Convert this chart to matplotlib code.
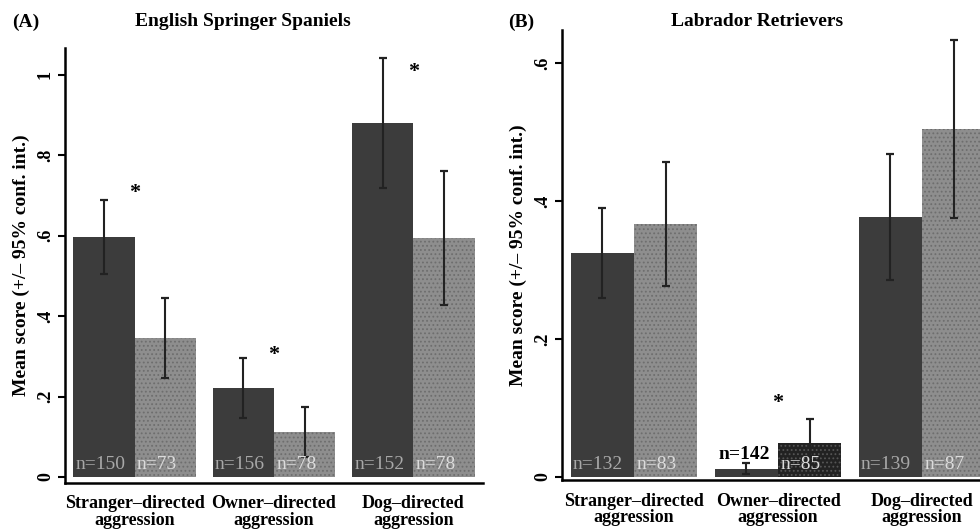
import numpy as np
import matplotlib.pyplot as plt

plt.rcParams['font.family'] = ['Liberation Serif', 'DejaVu Serif']
plt.rcParams['font.weight'] = 'bold'
plt.rcParams['hatch.linewidth'] = 0.8

categories = ['Stranger\u2013directed\naggression', 'Owner\u2013directed\naggression', 'Dog\u2013directed\naggression']

# English Springer Spaniels (panel A): dark = first group, light = second group
ess_dark = [0.597, 0.221, 0.881]
ess_dark_hi = [0.689, 0.296, 1.042]
ess_light = [0.346, 0.112, 0.594]
ess_light_hi = [0.445, 0.174, 0.761]
ess_n_dark = ['n=150', 'n=156', 'n=152']
ess_n_light = ['n=73', 'n=78', 'n=78']
ess_star = [0.706, 0.303, 1.007]

# Labrador Retrievers (panel B)
lab_dark = [0.325, 0.012, 0.377]
lab_dark_hi = [0.390, 0.020, 0.468]
lab_light = [0.367, 0.049, 0.504]
lab_light_hi = [0.457, 0.084, 0.633]
lab_n_dark = ['n=132', 'n=142', 'n=139']
lab_n_light = ['n=83', 'n=85', 'n=87']
lab_star = [None, 0.107, None]

DARK = '#3c3c3c'
LIGHT = '#8e8e8e'


def draw_panel(ax, dark, dark_hi, light, light_hi, n_dark, n_light, stars, ylim, yticks, yticklabels,
               light_colors=None, dark_label_colors=None):
    x = np.arange(len(categories))
    w = 0.44
    if light_colors is None:
        light_colors = [LIGHT] * len(x)
    ax.bar(x - w / 2, dark, width=w, color=DARK, edgecolor='none', zorder=2)
    lb = ax.bar(x + w / 2, light, width=w, color=light_colors, edgecolor='none', zorder=2)
    for b, c in zip(lb, light_colors):
        b.set_hatch('....')
        b.set_edgecolor('#6e6e6e' if c == LIGHT else '#555555')
        b.set_linewidth(0)
    # symmetric 95% CI whiskers
    d_err = np.array(dark_hi) - np.array(dark)
    l_err = np.array(light_hi) - np.array(light)
    ax.errorbar(x - w / 2, dark, yerr=d_err, fmt='none', ecolor='#222222', elinewidth=1.5, capsize=3, capthick=1.6, zorder=3)
    ax.errorbar(x + w / 2, light, yerr=l_err, fmt='none', ecolor='#222222', elinewidth=1.5, capsize=3, capthick=1.6, zorder=3)
    span = ylim[1] - ylim[0]
    for i in range(len(x)):
        if dark_label_colors is not None and dark_label_colors[i] == 'above':
            ax.text(x[i] - w / 2 - 0.19, dark[i] + 0.012 * span, n_dark[i], ha='left', va='bottom',
                    fontsize=14, color='black', zorder=4)
        else:
            ax.text(x[i] - w / 2 - 0.205, 0.008 * span, n_dark[i], ha='left', va='bottom',
                    fontsize=14, color='#a8a8a8', fontweight='normal', zorder=4)
        ax.text(x[i] + w / 2 - 0.205, 0.008 * span, n_light[i], ha='left', va='bottom',
                fontsize=14, color='#dcdcdc', fontweight='normal', zorder=4)
        if stars[i] is not None:
            ax.text(x[i], stars[i], '*', ha='center', va='center', fontsize=16, zorder=4)
    ax.set_xlim(-0.5, 2.5)
    ax.set_ylim(*ylim)
    ax.set_yticks(yticks)
    ax.set_yticklabels(yticklabels, rotation=90, va='center', fontsize=13)
    ax.set_xticks(x)
    ax.set_xticklabels(categories, fontsize=13, linespacing=0.95)
    ax.tick_params(axis='x', length=0, pad=9)
    ax.tick_params(axis='y', direction='out', length=5, width=1.5, pad=3)
    ax.spines['top'].set_visible(False)
    ax.spines['right'].set_visible(False)
    for s in ['left', 'bottom']:
        ax.spines[s].set_linewidth(1.8)
    ax.set_ylabel('Mean score (+/\u2013 95% conf. int.)', fontsize=14, fontweight='bold', labelpad=5)


fig = plt.figure(figsize=(9.8, 5.31), dpi=100)
W, H = 980.0, 531.0

axA = fig.add_axes([65 / W, 1 - 483 / H, (483 - 65) / W, (483 - 48) / H])
draw_panel(axA, ess_dark, ess_dark_hi, ess_light, ess_light_hi, ess_n_dark, ess_n_light, ess_star,
           ylim=(-0.015, 1.067), yticks=[0, 0.2, 0.4, 0.6, 0.8, 1.0],
           yticklabels=['0', '.2', '.4', '.6', '.8', '1'])

axB = fig.add_axes([562 / W, 1 - 480 / H, (994 - 562) / W, (480 - 30) / H])
draw_panel(axB, lab_dark, lab_dark_hi, lab_light, lab_light_hi, lab_n_dark, lab_n_light, lab_star,
           ylim=(-0.0045, 0.648), yticks=[0, 0.2, 0.4, 0.6],
           yticklabels=['0', '.2', '.4', '.6'],
           light_colors=[LIGHT, '#222222', LIGHT],
           dark_label_colors=[None, 'above', None])

fig.text(12 / W, 1 - 22 / H, '(A)', fontsize=14, ha='left', va='center')
fig.text(243 / W, 1 - 22 / H, 'English Springer Spaniels', fontsize=14, ha='center', va='center')
fig.text(508 / W, 1 - 22 / H, '(B)', fontsize=14, ha='left', va='center')
fig.text(757 / W, 1 - 22 / H, 'Labrador Retrievers', fontsize=14, ha='center', va='center')

fig.savefig('out.png', dpi=100)
